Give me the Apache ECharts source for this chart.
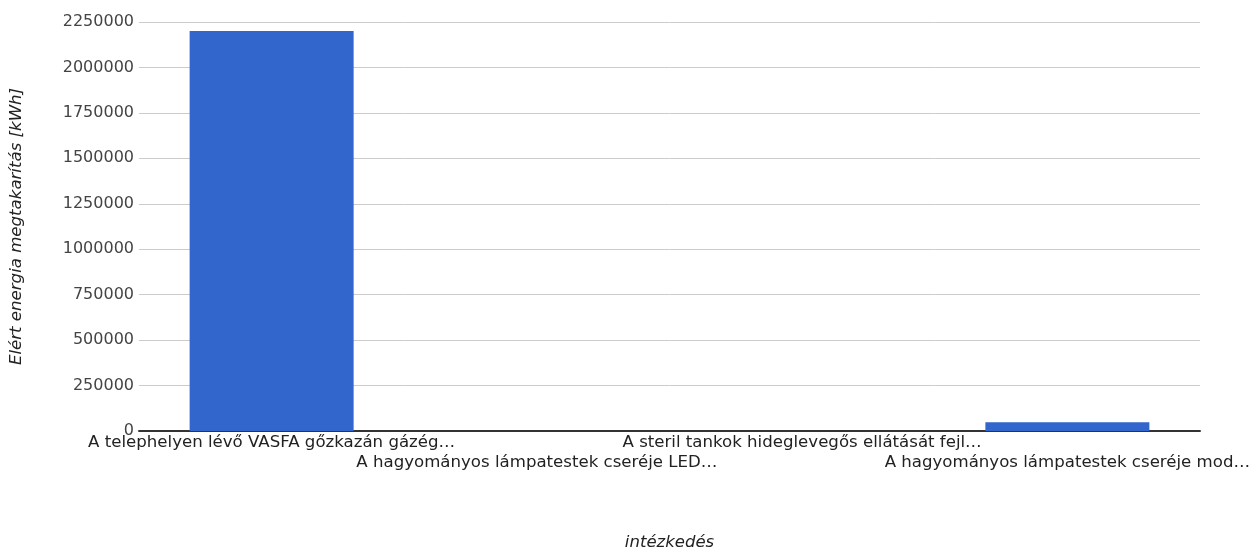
<!DOCTYPE html>
<html>
<head>
<meta charset="utf-8">
<script src="https://cdn.jsdelivr.net/npm/echarts@6/dist/echarts.min.js"></script>
<style>
  html, body { margin: 0; padding: 0; background: #fff; }
  #chart { width: 1251px; height: 551px; }
</style>
</head>
<body>
<div id="chart"></div>
<script>
const categories = [
  "A telephelyen lévő VASFA gőzkazán gázég…",
  "A hagyományos lámpatestek cseréje LED…",
  "A steril tankok hideglevegős ellátását fejl…",
  "A hagyományos lámpatestek cseréje mod…"
];
const savings = [2200000, 600, 500, 48000];
const yTicks = { min: 0, max: 2250000, step: 250000 };

const FONT = "DejaVu Sans";
const chart = echarts.init(document.getElementById("chart"));

chart.setOption({
  animation: false,
  textStyle: { fontFamily: FONT },
  grid: {
    left: 139, right: 51, top: 22, bottom: 120,
    containLabel: false,
    outerBoundsMode: "none"
  },
  xAxis: {
    type: "category",
    data: categories,
    name: "intézkedés",
    nameLocation: "middle",
    nameGap: 103,
    nameTextStyle: { fontFamily: FONT, fontStyle: "italic", fontSize: 16.5, color: "#222" },
    axisLine: { lineStyle: { color: "#333", width: 2 } },
    axisTick: { show: false },
    axisLabel: {
      interval: 0,
      margin: 2,
      fontFamily: FONT,
      fontSize: 16.6,
      lineHeight: 20,
      color: "#222",
      formatter: (v, i) => (i % 2 ? "\n" + v : v)
    }
  },
  yAxis: {
    type: "value",
    min: yTicks.min,
    max: yTicks.max,
    interval: yTicks.step,
    name: "Elért energia megtakarítás [kWh]",
    nameLocation: "middle",
    nameGap: 114,
    nameTextStyle: { fontFamily: FONT, fontStyle: "italic", fontSize: 16.6, color: "#222" },
    axisLine: { show: false },
    axisTick: { show: false },
    axisLabel: {
      fontFamily: FONT,
      fontSize: 16,
      color: "#444",
      margin: 5,
      formatter: (v) => String(v)
    },
    splitLine: { lineStyle: { color: "#ccc", width: 1 } }
  },
  series: [
    {
      type: "bar",
      data: savings,
      barWidth: 164,
      itemStyle: { color: "#3366cc" }
    }
  ]
});
</script>
</body>
</html>
